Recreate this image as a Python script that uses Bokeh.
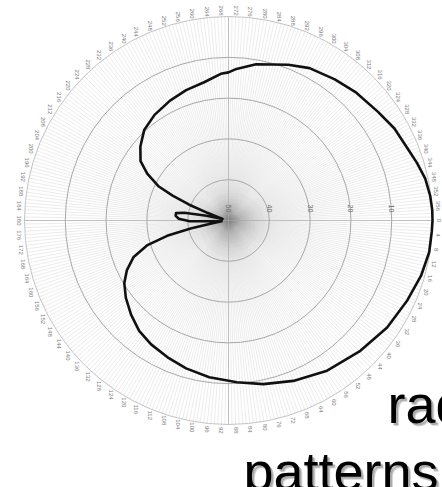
import numpy as np
from bokeh.plotting import figure
from bokeh.models import Range1d
from bokeh.embed import file_html
from bokeh.resources import INLINE
from bokeh.core.properties import value

# Antenna pattern: azimuth in degrees (clockwise, 0 at the right) and level in dB
azimuth_deg = [0, 3, 9, 16, 24, 34, 45, 57, 68, 78,
               87, 97, 106, 114, 122, 129, 136, 143, 149, 154,
               159, 163, 166, 168, 170, 173, 177, 179, 182, 185,
               188, 190, 192, 195, 198, 200, 202, 204, 206, 210,
               214, 220, 227, 235, 244, 252, 260, 267, 270, 273,
               280, 291, 298, 307, 315, 324, 331, 338, 343, 348,
               353, 357]
level_db = [0, -0.1, -0.2, -0.9, -2.0, -3.1, -4.6, -6.0, -7.6, -9.0,
            -10.3, -11.3, -12.3, -13.3, -14.2, -15.2, -16.8, -18.5, -20.2, -22.3,
            -25.1, -29.1, -34.5, -40.5, -45.5, -48.3, -46.5, -40.5, -37.8, -37.0,
            -37.0, -39.0, -44.5, -48.5, -47.5, -44.5, -39.5, -35.0, -31.0, -27.0,
            -24.0, -21.8, -19.7, -18.4, -17.3, -16.4, -15.6, -14.0, -13.7, -12.8,
            -11.1, -9.1, -7.7, -6.7, -5.7, -4.7, -3.5, -2.7, -1.7, -0.7,
            -0.2, 0]

ring_levels = [-50, -40, -30, -20, -10]
ring_labels = ["50", "40", "30", "20", "10"]
angle_ticks = list(range(0, 360, 4))
heading_lines = ["radiation", "patterns"]

FLOOR_DB = -50
TOP_DB = 0
W, H = 442, 487
CX, CY = 228, 220          # pixel position of the pole
PX = 4.08                  # pixels per dB


def polar(az, lvl):
    r = np.asarray(lvl, float) - FLOOR_DB
    t = np.radians(np.asarray(az, float))
    return r * np.cos(t), -r * np.sin(t)


def px(xp, yp):
    """pixel position -> data position"""
    return (xp - CX) / PX, (CY - yp) / PX


p = figure(width=W, height=H, output_backend="svg", toolbar_location=None,
           x_range=Range1d(-CX / PX, (W - CX) / PX),
           y_range=Range1d(-(H - CY) / PX, CY / PX),
           x_axis_location=None, y_axis_location=None, min_border=0)
p.grid.visible = False
p.outline_line_color = None
p.background_fill_color = "white"

R_OUT = TOP_DB - FLOOR_DB

# spokes every degree
sp = np.radians(np.arange(0, 360, 1))
p.multi_line(xs=[[0, R_OUT * np.cos(a)] for a in sp],
             ys=[[0, -R_OUT * np.sin(a)] for a in sp],
             line_color="#8c8c8c", line_alpha=0.24, line_width=0.7)
# main axes
ax = np.radians([0, 90, 180, 270])
p.multi_line(xs=[[0, R_OUT * np.cos(a)] for a in ax],
             ys=[[0, -R_OUT * np.sin(a)] for a in ax],
             line_color="#b4b4b4", line_width=0.8)

# soft shading at the pole
for rr in [1.5, 2.5, 3.5, 4.5, 5.5, 6.5, 8]:
    p.circle(x=1.0, y=-1.2, radius=rr, fill_color="#707070", fill_alpha=0.03,
             line_color=None)

# level rings
for lv in ring_levels[1:]:
    p.circle(x=0, y=0, radius=lv - FLOOR_DB, fill_color=None,
             line_color="#a8a8a8", line_width=1)
p.circle(x=0, y=0, radius=R_OUT, fill_color=None, line_color="#c4c4c4", line_width=1)

# level labels along the 0-degree axis
lx = [lv - FLOOR_DB for lv in ring_levels]
p.text(x=lx, y=[12 / PX] * len(lx), text=ring_labels, angle=-np.pi / 2,
       text_align="center", text_baseline="middle", text_font_size="7px",
       text_color="#6a6a6a", text_font=value("Liberation Sans"))

# azimuth labels
tx, ty = polar(angle_ticks, [FLOOR_DB + 210 / PX] * len(angle_ticks))
p.text(x=tx, y=ty, text=[str(a) for a in angle_ticks], angle=-np.pi / 2,
       text_align="center", text_baseline="middle", text_font_size="6px",
       text_color="#7c7c7c", text_font=value("Liberation Sans"))

# pattern trace (closed)
cx_, cy_ = polar(azimuth_deg + [azimuth_deg[0]], level_db + [level_db[0]])
p.line(cx_, cy_, line_color="#111111", line_width=2.6, line_join="round")

# heading with a soft drop shadow
pos = [(387, 403), (243, 470)]
for txt, (xp, yp) in zip(heading_lines, pos):
    for dx, dy, a in [(3, 3, 0.16), (2, 2, 0.2)]:
        x0, y0 = px(xp + dx, yp + dy)
        p.text(x=[x0], y=[y0], text=[txt], text_font_size="54px",
               text_color="#000000", text_alpha=a, text_baseline="alphabetic",
               text_font=value("Liberation Sans"))
    x0, y0 = px(xp, yp)
    p.text(x=[x0], y=[y0], text=[txt], text_font_size="54px",
           text_color="#000000", text_baseline="alphabetic",
           text_font=value("Liberation Sans"))

open("out.html", "w").write(file_html(p, INLINE))
